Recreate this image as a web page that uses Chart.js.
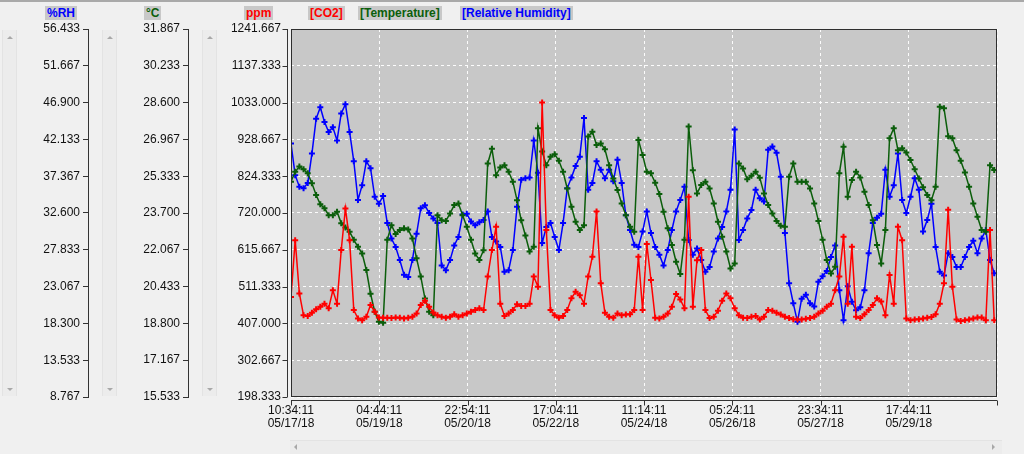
<!DOCTYPE html>
<html>
<head>
<meta charset="utf-8">
<title>CO2 / Temperature / Relative Humidity</title>
<script src="https://cdn.jsdelivr.net/npm/chart.js@4.4.0/dist/chart.umd.min.js"></script>
<style>
  html, body { margin: 0; padding: 0; background: #f0f0f0; }
  #wrap { position: relative; width: 1024px; height: 454px; overflow: hidden;
          font-family: "Liberation Sans", Arial, sans-serif; }
  #wrap canvas { position: absolute; left: 0; top: 0; }
  .topline { position: absolute; left: 0; top: 0; width: 1024px; height: 2px; background: #a9a9a9; }
  .hdr { position: absolute; top: 6px; font-size: 12px; font-weight: bold; line-height: 14px;
         background: #c8c8c8; padding: 0 2px; white-space: nowrap; }
  .vbar { position: absolute; top: 30px; width: 13px; height: 366px; background: #ececec;
          border-left: 1px solid #e3e3e3; border-right: 1px solid #e3e3e3; }
  .hbar { position: absolute; left: 290px; top: 440px; width: 712px; height: 13px; background: #ececec;
          border-top: 1px solid #e3e3e3; }
  .up, .dn, .lt, .rt { position: absolute; width: 0; height: 0; }
  .up { border-left: 3px solid transparent; border-right: 3px solid transparent; border-bottom: 3px solid #a8a8a8; }
  .dn { border-left: 3px solid transparent; border-right: 3px solid transparent; border-top: 3px solid #a8a8a8; }
  .lt { border-top: 3px solid transparent; border-bottom: 3px solid transparent; border-right: 3px solid #a8a8a8; }
  .rt { border-top: 3px solid transparent; border-bottom: 3px solid transparent; border-left: 3px solid #a8a8a8; }
</style>
</head>
<body>
<div id="wrap">
  <canvas id="grafico" width="1024" height="454"></canvas>
  <div class="topline"></div>

  <div class="vbar" style="left:2px"><div class="up" style="left:4px;top:6px"></div><div class="dn" style="left:4px;top:358px"></div></div>
  <div class="vbar" style="left:102px"><div class="up" style="left:4px;top:6px"></div><div class="dn" style="left:4px;top:358px"></div></div>
  <div class="vbar" style="left:202px"><div class="up" style="left:4px;top:6px"></div><div class="dn" style="left:4px;top:358px"></div></div>
  <div class="hbar"><div class="lt" style="left:4px;top:3px"></div><div class="rt" style="left:702px;top:3px"></div></div>

  <span class="hdr" style="left:45px;color:#0000ff">%RH</span>
  <span class="hdr" style="left:144px;color:#0b5e0b">°C</span>
  <span class="hdr" style="left:244px;color:#ff0000">ppm</span>
  <span class="hdr" style="left:308px;color:#ff0000">[CO2]</span>
  <span class="hdr" style="left:358px;color:#0b5e0b">[Temperature]</span>
  <span class="hdr" style="left:460px;color:#0000ff">[Relative Humidity]</span>
</div>

<script>
// one sample every 2 hours starting 05/17/18 10:34:11
const startTime = Date.UTC(2018, 4, 17, 10, 34, 11);
const sampleHours = 2;

const co2Ppm = [
  482, 643, 492, 430, 428, 437, 447, 454, 463, 450, 501, 463, 615, 733, 643, 445, 421, 416, 426, 459,
  440, 424, 423, 423, 422, 424, 423, 421, 423, 426, 435, 459, 471, 454, 438, 430, 426, 423, 426, 433,
  426, 430, 435, 440, 445, 450, 445, 540, 615, 681, 463, 428, 435, 445, 461, 456, 456, 463, 540, 511,
  1033, 672, 445, 430, 423, 428, 445, 478, 497, 487, 463, 540, 596, 724, 521, 437, 426, 423, 435, 430,
  432, 433, 445, 596, 445, 632, 530, 423, 421, 426, 435, 454, 490, 475, 450, 766, 454, 586, 615, 445,
  422, 426, 443, 471, 492, 478, 450, 430, 423, 422, 426, 428, 418, 426, 445, 443, 437, 432, 426, 422,
  419, 418, 418, 420, 422, 426, 435, 443, 454, 463, 501, 540, 653, 463, 624, 426, 422, 433, 445, 459,
  478, 469, 430, 544, 463, 681, 643, 421, 416, 418, 419, 421, 423, 425, 433, 463, 521, 729, 511, 418,
  414, 416, 418, 421, 424, 424, 416, 672, 416
];

const temperatureC = [
  25.09, 25.53, 25.76, 25.64, 25.46, 25.02, 24.50, 24.09, 23.91, 23.60, 23.60, 23.76, 23.24, 23.06, 22.87, 22.51, 22.20, 21.90, 21.17, 20.12,
  19.32, 18.87, 18.83, 22.51, 23.16, 22.77, 22.95, 23.02, 22.97, 22.57, 21.69, 20.88, 19.91, 19.32, 19.16, 23.60, 23.38, 23.35, 23.68, 24.05,
  24.12, 23.60, 23.09, 22.51, 21.90, 21.61, 22.05, 25.90, 26.55, 25.38, 25.72, 25.82, 25.53, 25.09, 24.27, 23.38, 22.70, 21.99, 22.20, 27.46,
  26.43, 25.82, 26.20, 26.31, 26.02, 25.53, 24.79, 23.98, 23.31, 22.95, 23.16, 27.09, 27.31, 26.72, 26.79, 26.53, 25.82, 25.23, 24.72, 24.12,
  23.60, 23.09, 22.87, 26.94, 26.27, 25.53, 25.46, 25.04, 24.54, 23.76, 23.02, 22.28, 21.54, 20.99, 22.51, 27.54, 25.60, 24.57, 24.94, 25.09,
  24.79, 24.12, 23.31, 22.65, 21.99, 21.24, 21.46, 25.90, 25.68, 25.20, 25.35, 25.53, 25.26, 24.57, 24.05, 23.68, 23.35, 23.13, 23.09, 25.31,
  25.90, 25.09, 25.09, 25.09, 24.79, 24.12, 23.35, 22.51, 21.61, 21.02, 21.31, 25.46, 26.64, 24.42, 25.16, 25.53, 25.28, 24.64, 24.05, 23.38,
  22.28, 21.46, 22.95, 27.02, 27.46, 26.49, 26.57, 26.38, 26.05, 25.64, 25.23, 24.84, 24.50, 24.27, 24.87, 28.42, 28.35, 27.11, 27.02, 26.49,
  26.02, 25.50, 24.87, 24.12, 23.53, 22.95, 22.87, 25.82, 25.61
];

const humidityRH = [
  41.6, 37.5, 36.0, 35.8, 36.5, 40.3, 44.8, 46.3, 44.4, 43.1, 43.7, 42.0, 45.5, 46.7, 43.1, 39.3, 34.3, 36.2, 39.3, 38.4,
  34.7, 33.8, 34.8, 31.3, 29.3, 28.2, 26.5, 24.6, 24.3, 26.5, 29.9, 33.2, 33.6, 32.6, 31.9, 31.3, 25.8, 25.2, 26.5, 28.4,
  29.5, 32.4, 32.5, 31.5, 31.0, 31.4, 31.7, 32.8, 29.5, 28.9, 28.2, 25.0, 25.2, 27.8, 33.4, 36.9, 37.1, 37.2, 42.0, 37.8,
  28.7, 30.8, 31.3, 29.5, 27.8, 31.3, 35.8, 37.2, 38.7, 39.9, 44.9, 35.6, 36.5, 39.3, 38.2, 37.1, 38.2, 36.7, 39.5, 36.5,
  32.3, 30.4, 28.5, 28.2, 30.2, 32.8, 30.0, 28.2, 27.2, 25.8, 27.8, 30.4, 32.8, 34.3, 36.0, 29.1, 27.2, 28.0, 26.5, 25.0,
  25.6, 27.6, 29.3, 30.8, 32.8, 35.6, 43.4, 29.1, 30.4, 31.9, 33.0, 35.6, 34.5, 34.1, 40.8, 41.2, 40.4, 37.3, 30.0, 23.5,
  20.9, 18.5, 21.5, 22.0, 20.9, 20.5, 23.7, 24.4, 25.1, 26.9, 28.4, 22.6, 18.7, 23.1, 21.1, 20.0, 20.4, 22.6, 27.4, 31.3,
  32.0, 32.5, 38.2, 34.7, 36.2, 40.3, 34.3, 32.6, 34.7, 37.1, 35.6, 30.2, 31.7, 33.8, 28.2, 25.0, 24.5, 27.4, 26.9, 25.6,
  25.6, 26.9, 28.2, 29.0, 27.4, 29.3, 30.4, 26.5, 24.8
];

const rhTicks = [8.767, 13.533, 18.300, 23.067, 27.833, 32.600, 37.367, 42.133, 46.900, 51.667, 56.433];
const tempTicks = [15.533, 17.167, 18.800, 20.433, 22.067, 23.700, 25.333, 26.967, 28.600, 30.233, 31.867];
const ppmTicks = [198.333, 302.667, 407.000, 511.333, 615.667, 720.000, 824.333, 928.667, 1033.000, 1137.333, 1241.667];

const xTickTimes = [
  '2018-05-17T10:34:11Z', '2018-05-19T04:44:11Z', '2018-05-20T22:54:11Z', '2018-05-22T17:04:11Z',
  '2018-05-24T11:14:11Z', '2018-05-26T05:24:11Z', '2018-05-27T23:34:11Z', '2018-05-29T17:44:11Z',
  '2018-05-31T11:54:11Z'
];
const xTickLabels = [
  ['10:34:11', '05/17/18'], ['04:44:11', '05/19/18'], ['22:54:11', '05/20/18'], ['17:04:11', '05/22/18'],
  ['11:14:11', '05/24/18'], ['05:24:11', '05/26/18'], ['23:34:11', '05/27/18'], ['17:44:11', '05/29/18'],
  ''
];

const xTickValues = xTickTimes.map(s => Date.parse(s));
const toPoints = arr => arr.map((v, i) => ({ x: startTime + i * sampleHours * 3600000, y: v }));

Chart.defaults.font.family = '"Liberation Sans", Arial, sans-serif';
Chart.defaults.font.size = 12;
Chart.defaults.color = '#111';

const axisColor = '#333';
const gridWhite = 'rgba(255,255,255,0.95)';

// plot background, frame and the detached ppm / time axis lines
const moldura = {
  id: 'moldura',
  beforeDraw(chart) {
    const { ctx, chartArea: a } = chart;
    ctx.save();
    ctx.fillStyle = '#c8c8c8';
    ctx.fillRect(a.left, a.top, a.right - a.left, a.bottom - a.top);
    ctx.restore();
  },
  afterDraw(chart) {
    const { ctx, chartArea: a, scales } = chart;
    ctx.save();
    ctx.strokeStyle = '#2e2e2e';
    ctx.lineWidth = 1;
    ctx.strokeRect(a.left + 0.5, a.top + 0.5, a.right - a.left - 1, a.bottom - a.top - 1);

    ctx.strokeStyle = axisColor;
    ctx.beginPath();
    const ax = a.left - 3.5;
    ctx.moveTo(ax, a.top);
    ctx.lineTo(ax, a.bottom);
    scales.co2.ticks.forEach(t => {
      const y = Math.round(scales.co2.getPixelForValue(t.value)) + 0.5;
      ctx.moveTo(ax - 5, y);
      ctx.lineTo(ax, y);
    });
    const ay = a.bottom + 3.5;
    ctx.moveTo(a.left, ay);
    ctx.lineTo(a.right, ay);
    scales.x.ticks.forEach(t => {
      const x = Math.round(scales.x.getPixelForValue(t.value)) + 0.5;
      ctx.moveTo(x, ay);
      ctx.lineTo(x, ay + 5);
    });
    ctx.stroke();
    ctx.restore();
  }
};

const sideAxis = (ticksArr, weight, width) => ({
  type: 'linear',
  position: 'left',
  weight: weight,
  min: ticksArr[0],
  max: ticksArr[ticksArr.length - 1],
  afterBuildTicks: s => { s.ticks = ticksArr.map(v => ({ value: v })); },
  afterFit: s => { s.width = width; },
  grid: { display: true, drawOnChartArea: false, drawTicks: true, tickLength: 5, tickColor: axisColor, color: axisColor },
  border: { display: true, color: axisColor, width: 1 },
  ticks: { padding: 3, color: '#111', callback: v => Number(v).toFixed(3) }
});

const serie = (label, values, axis, color) => ({
  label: label,
  data: toPoints(values),
  yAxisID: axis,
  borderColor: color,
  backgroundColor: color,
  borderWidth: 1.5,
  pointStyle: 'cross',
  pointRadius: 3,
  pointBorderWidth: 2
});

const ctx = document.getElementById('grafico');

new Chart(ctx, {
  type: 'line',
  data: {
    datasets: [
      serie('CO2', co2Ppm, 'co2', '#ff0000'),
      serie('Temperature', temperatureC, 'temp', '#0b5e0b'),
      serie('Relative Humidity', humidityRH, 'rh', '#0000ff')
    ]
  },
  options: {
    responsive: false,
    animation: false,
    events: [],
    layout: { padding: { top: 29, right: 27, bottom: 0, left: 0 } },
    plugins: { legend: { display: false }, tooltip: { enabled: false } },
    scales: {
      x: {
        type: 'linear',
        position: 'bottom',
        min: xTickValues[0],
        max: xTickValues[xTickValues.length - 1],
        afterBuildTicks: s => { s.ticks = xTickValues.map(v => ({ value: v })); },
        afterFit: s => { s.height = 57; },
        grid: { color: gridWhite, drawTicks: false, lineWidth: 1 },
        border: { display: false, dash: [3, 3] },
        ticks: {
          padding: 7, maxRotation: 0, autoSkip: false, color: '#111',
          font: { lineHeight: 1.1 },
          callback: (v, i) => xTickLabels[i]
        }
      },
      rh: sideAxis(rhTicks, 2, 88),
      temp: sideAxis(tempTicks, 1, 100),
      co2: {
        type: 'linear',
        position: 'left',
        weight: 0,
        min: ppmTicks[0],
        max: ppmTicks[ppmTicks.length - 1],
        afterBuildTicks: s => { s.ticks = ppmTicks.map(v => ({ value: v })); },
        afterFit: s => { s.width = 103; },
        grid: { color: gridWhite, drawTicks: false, lineWidth: 1 },
        border: { display: false, dash: [3, 3] },
        ticks: { padding: 10, color: '#111', callback: v => Number(v).toFixed(3) }
      }
    }
  },
  plugins: [moldura]
});
</script>
</body>
</html>
